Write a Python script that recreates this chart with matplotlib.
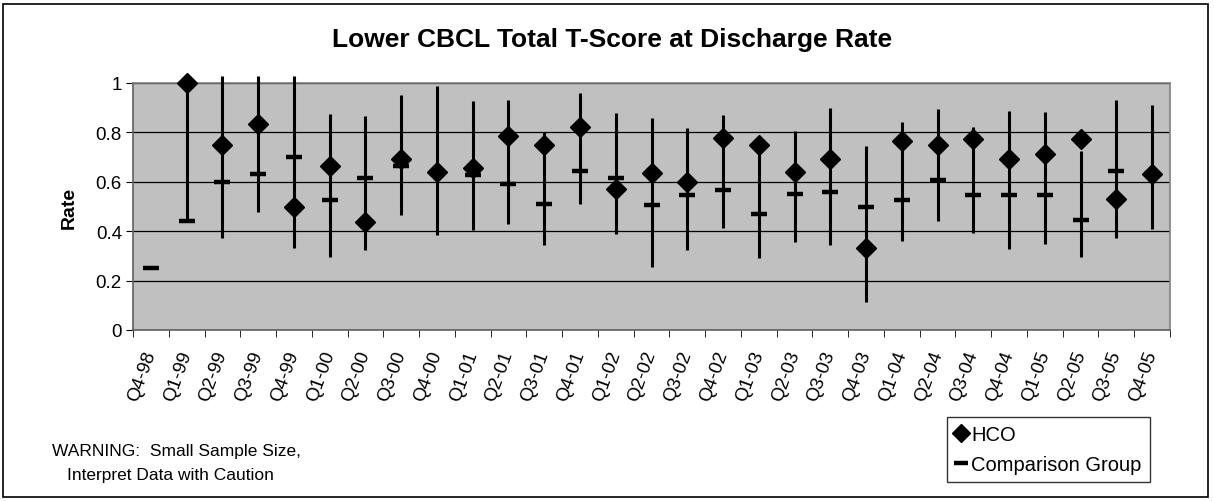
import matplotlib
matplotlib.use('Agg')
import matplotlib.pyplot as plt
import numpy as np

plt.rcParams['font.family'] = ['Liberation Sans', 'DejaVu Sans']

# quarters
quarters = ['Q4-98', 'Q1-99', 'Q2-99', 'Q3-99', 'Q4-99', 'Q1-00', 'Q2-00', 'Q3-00',
            'Q4-00', 'Q1-01', 'Q2-01', 'Q3-01', 'Q4-01', 'Q1-02', 'Q2-02', 'Q3-02',
            'Q4-02', 'Q1-03', 'Q2-03', 'Q3-03', 'Q4-03', 'Q1-04', 'Q2-04', 'Q3-04',
            'Q4-04', 'Q1-05', 'Q2-05', 'Q3-05', 'Q4-05']

# HCO rate (no value for first quarter)
hco = [np.nan, 1.0, 0.75, 0.832, 0.5, 0.665, 0.436, 0.692,
       0.638, 0.654, 0.786, 0.749, 0.823, 0.57, 0.635, 0.599,
       0.777, 0.749, 0.638, 0.692, 0.332, 0.764, 0.75, 0.773,
       0.692, 0.714, 0.773, 0.532, 0.63]

# comparison group rate
comp = [0.25, 0.443, 0.601, 0.631, 0.701, 0.527, 0.615, 0.665,
        0.635, 0.628, 0.591, 0.509, 0.645, 0.616, 0.507, 0.546,
        0.568, 0.468, 0.55, 0.557, 0.5, 0.527, 0.608, 0.545,
        0.545, 0.547, 0.447, 0.645, 0.63]

# confidence interval ends
ci_low = [np.nan, 0.443, 0.374, 0.478, 0.334, 0.295, 0.322, 0.466,
          0.385, 0.405, 0.428, 0.345, 0.509, 0.388, 0.254, 0.322,
          0.411, 0.291, 0.355, 0.343, 0.112, 0.362, 0.441, 0.393,
          0.328, 0.347, 0.295, 0.374, 0.408]
ci_high = [np.nan, 1.0, 1.03, 1.03, 1.03, 0.874, 0.865, 0.953,
           0.989, 0.926, 0.932, 0.8, 0.958, 0.878, 0.858, 0.818,
           0.872, 0.786, 0.804, 0.899, 0.745, 0.841, 0.895, 0.82,
           0.886, 0.884, 0.723, 0.932, 0.909]

x = np.arange(len(quarters))

fig = plt.figure(figsize=(12.14, 5.02), dpi=100)
ax = fig.add_axes([133 / 1214, 1 - 331 / 502, 1037 / 1214, 247 / 502])
ax.set_facecolor('#c0c0c0')

ax.vlines(x, ci_low, ci_high, color='black', linewidth=2.2, clip_on=False, zorder=3)
ax.plot(x, comp, linestyle='none', marker='_', markersize=11.5, markeredgewidth=3.2,
        color='black', label='Comparison Group', clip_on=False, zorder=4)
ax.plot(x, hco, linestyle='none', marker='D', markersize=10, color='black',
        label='HCO', clip_on=False, zorder=5)

ax.set_xlim(-0.5, len(quarters) - 0.5)
ax.set_ylim(0, 1)
ax.set_yticks([0, 0.2, 0.4, 0.6, 0.8, 1.0])
ax.set_yticklabels(['0', '0.2', '0.4', '0.6', '0.8', '1'], fontsize=13.5)
ax.yaxis.grid(True, color='black', linewidth=0.9)
ax.set_axisbelow(True)

ax.set_xticks(x)
ax.set_xticklabels(quarters, rotation=70, ha='right', va='center',
                   rotation_mode='anchor', fontsize=13.5)
ax.set_xticks(np.arange(len(quarters) + 1) - 0.5, minor=True)
ax.tick_params(axis='x', which='major', length=0, pad=15)
ax.tick_params(axis='x', which='minor', length=5, color='black')
ax.tick_params(axis='y', length=5, color='black', pad=3)

for side in ['top', 'right']:
    ax.spines[side].set_color('#808080')
    ax.spines[side].set_linewidth(1.2)
for side in ['left', 'bottom']:
    ax.spines[side].set_color('#606060')
    ax.spines[side].set_linewidth(1.2)

ax.set_ylabel('Rate', fontsize=14, fontweight='bold', labelpad=13)
fig.text(612 / 1214, 1 - 40 / 502, 'Lower CBCL Total T-Score at Discharge Rate',
         ha='center', va='center', fontsize=19, fontweight='bold')

fig.text(52 / 1214, 1 - 452 / 502, 'WARNING:  Small Sample Size,', fontsize=12.5,
         va='center', ha='left')
fig.text(67 / 1214, 1 - 476 / 502, 'Interpret Data with Caution', fontsize=12.5,
         va='center', ha='left')

handles, labels = ax.get_legend_handles_labels()
leg = fig.legend([handles[1], handles[0]], [labels[1], labels[0]],
                 loc='upper left', bbox_to_anchor=(947 / 1214, 1 - 418 / 502),
                 fontsize=14.5, frameon=True, fancybox=False, edgecolor='black',
                 handlelength=0.6, handletextpad=0.2, borderpad=0.4,
                 labelspacing=0.55, borderaxespad=0, markerscale=0.9)
leg.get_frame().set_linewidth(1)

# outer border
fig.patches.append(plt.Rectangle((3 / 1214, 4 / 502), 1205 / 1214, 493 / 502,
                                 transform=fig.transFigure, fill=False,
                                 edgecolor='black', linewidth=1.2))

fig.savefig('out.png', dpi=100)
